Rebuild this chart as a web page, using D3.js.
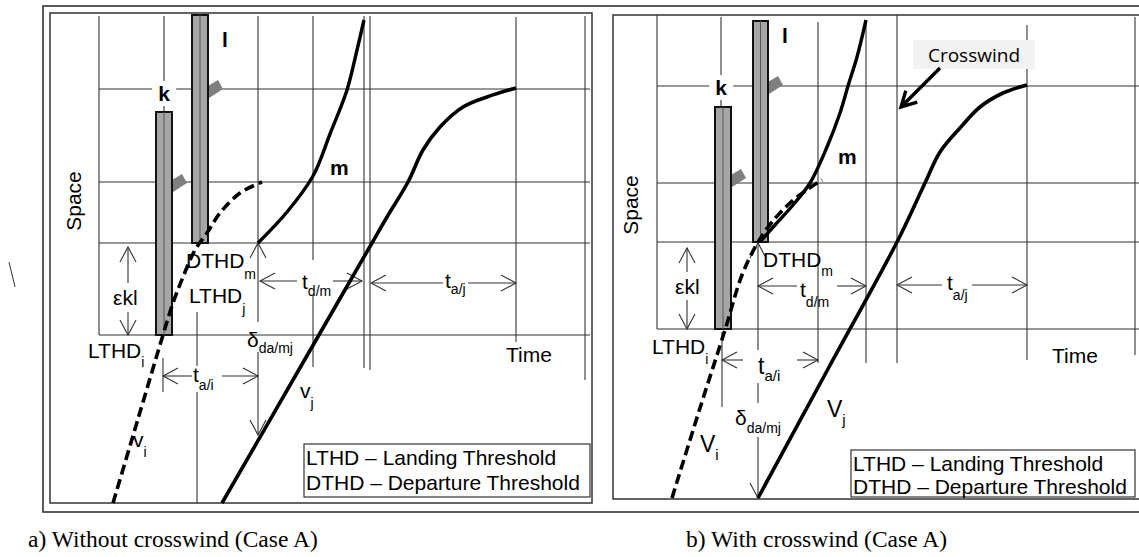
<!DOCTYPE html>
<html>
<head>
<meta charset="utf-8">
<script src="https://cdn.jsdelivr.net/npm/d3@7"></script>
<style>
  html, body { margin: 0; padding: 0; background: #fff; }
  svg { display: block; }
</style>
</head>
<body>
<svg id="fig" width="1139" height="557"></svg>
<script>
// time runs left->right, space runs bottom->up. units are arbitrary (~10 px each)

// ---------- a) without crosswind ----------
const aGridSpace = [41.4, 32.1, 26.0, 16.8]
const aGridTime = [4.9, 54.0]
// [time, space from, space to]
const aVerticals = [
  [4.9, 16.8, 48.7], [11.4, 39.1, 48.7], [20.8, 18.1, 48.7], [20.8, 6.8, 15.1],
  [26.3, 24.3, 48.7], [26.3, 13.6, 20.8], [31.4, 13.5, 48.7], [32.0, 13.3, 48.7],
  [46.6, 16.1, 48.6], [53.5, 12.3, 48.7], [11.3, 11.1, 14.5],
  [14.7, 13.7, 19.1], [14.7, 0, 11.1],
  [7.8, 22.0, 25.6], [7.8, 16.8, 19.1]
]
// [space, time from, time to]
const aHorizontals = [
  [12.7, 11.3, 14.2], [12.7, 17.2, 20.8],
  [22.2, 21.0, 24.7], [22.2, 28.3, 31.2],
  [22.0, 32.1, 39.3], [22.0, 41.8, 46.6]
]
const aHeads = [
  [7.8, 25.6, 'up'], [7.8, 16.8, 'down'], [20.8, 26.0, 'up'], [20.8, 6.8, 'down'],
  [11.3, 12.7, 'left'], [20.8, 12.7, 'right'], [21.0, 22.2, 'left'], [31.2, 22.2, 'right'],
  [32.1, 22.0, 'left'], [46.6, 22.0, 'right']
]
const aBars = [
  { id: 'k', t0: 10.6, t1: 12.2, s0: 16.8, s1: 39.1, tab: 32.2 },
  { id: 'l', t0: 14.2, t1: 15.8, s0: 26.0, s1: 48.8, tab: 41.6 }
]
const aVi = [[6.3, 0], [8.8, 8.4], [11.3, 16.8], [12.3, 20.0], [13.3, 22.6], [14.5, 25.3], [15.7, 27.0], [17.0, 29.0], [19.0, 31.0], [21.2, 32.1]]
const aM = [[20.8, 26.0], [23.7, 29.1], [26.3, 32.7], [28.0, 36.9], [29.7, 41.3], [30.7, 45.3], [31.4, 48.3]]
const aVj = [[17.2, 0], [24.7, 13.0], [29.2, 20.8], [32.2, 26.0], [33.7, 28.6], [35.8, 32.1], [37.3, 35.3], [39.0, 37.6], [41.3, 39.6], [43.7, 40.6], [46.6, 41.5]]
const aLabels = [
  { kind: 'bold', text: 'l', t: 17.2, s: 45.6 },
  { kind: 'bold', text: 'k', t: 11.4, s: 40.2, anchor: 'middle', bg: true },
  { kind: 'axis', text: 'Space', t: 3.1, s: 30.2, rotate: true },
  { kind: 'bold', text: 'm', t: 28.0, s: 32.8 },
  { kind: 'norm', text: 'DTHD', sub: 'm', subDy: 11, t: 13.6, s: 23.5 },
  { kind: 'norm', text: 'LTHD', sub: 'j', subDy: 11, t: 13.9, s: 20.0 },
  { kind: 'norm', text: 'ε', sub: 'kl', subDy: 0, t: 6.3, s: 19.8 },
  { kind: 'norm', text: 'LTHD', sub: 'i', subDy: 9, t: 3.8, s: 14.5 },
  { kind: 'norm', text: 't', sub: 'a/i', subDy: 8, t: 14.3, s: 12.1 },
  { kind: 'norm', text: 'δ', sub: 'da/mj', subDy: 6, t: 19.7, s: 15.6 },
  { kind: 'norm', text: 't', sub: 'd/m', subDy: 7, t: 25.2, s: 21.4 },
  { kind: 'norm', text: 't', sub: 'a/j', subDy: 6, t: 39.5, s: 21.5 },
  { kind: 'norm', text: 'Time', t: 45.6, s: 14.1 },
  { kind: 'norm', text: 'v', sub: 'j', subDy: 10, t: 25.0, s: 10.5 },
  { kind: 'norm', text: 'v', sub: 'i', subDy: 10, t: 8.3, s: 5.6 }
]
const aLegend = { t0: 25.4, t1: 54.0, s0: 0.6, s1: 5.9, tText: 25.6, sLines: [3.8, 1.3] }

// ---------- b) with crosswind ----------
const bGridSpace = [41.3, 31.6, 25.7, 17.0]
const bGridTime = [4.4, 53.3]
const bVerticals = [
  [4.4, 17.0, 48.4], [10.8, 39.2, 48.2], [20.5, 13.6, 47.7], [25.3, 13.6, 47.9], [28.4, 13.6, 48.4],
  [41.4, 13.9, 47.4], [52.2, 14.4, 48.2], [10.9, 9.2, 16.7],
  [14.5, 14.9, 25.6], [14.5, 9.6, 11.6], [14.5, 0.1, 6.2],
  [7.4, 22.7, 25.1], [7.4, 17.0, 19.9]
]
const bHorizontals = [
  [13.9, 10.9, 13.0], [13.9, 18.4, 20.5],
  [21.3, 14.5, 18.4], [21.3, 22.4, 25.3],
  [21.4, 28.4, 32.9], [21.4, 35.9, 41.4]
]
const bHeads = [
  [7.4, 25.1, 'up'], [7.4, 17.0, 'down'], [14.5, 25.6, 'up'], [14.5, 0.1, 'down'],
  [10.9, 13.9, 'left'], [20.5, 13.9, 'right'], [14.5, 21.3, 'left'], [25.3, 21.3, 'right'],
  [28.4, 21.4, 'left'], [41.4, 21.4, 'right']
]
const bBars = [
  { id: 'k', t0: 10.2, t1: 11.8, s0: 17.0, s1: 39.2, tab: 32.3 },
  { id: 'l', t0: 14.0, t1: 15.5, s0: 25.7, s1: 47.8, tab: 41.6 }
]
const bVi = [[5.9, 0.1], [8.7, 9.1], [11.2, 16.9], [12.9, 22.4], [14.4, 25.5], [15.9, 27.7], [17.7, 29.6], [19.5, 31.0], [20.9, 31.9]]
const bM = [[14.7, 25.7], [16.2, 27.4], [18.0, 29.4], [19.7, 31.6], [21.4, 35.2], [22.7, 38.6], [23.5, 41.3], [24.4, 44.2], [25.3, 47.9]]
const bVj = [[14.5, 0.1], [21.5, 13.0], [28.4, 25.7], [31.2, 31.6], [32.7, 34.7], [34.7, 37.1], [36.7, 39.2], [39.0, 40.6], [41.4, 41.4]]
const bCrosswind = { box: [30.0, 42.2, 43.0, 45.9], label: [36.1, 43.7], arrow: [[32.7, 43.1], [28.8, 39.2]] }
const bLabels = [
  { kind: 'bold', text: 'l', t: 16.9, s: 45.6 },
  { kind: 'bold', text: 'k', t: 10.8, s: 40.4, anchor: 'middle', bg: true },
  { kind: 'axis', text: 'Space', t: 2.5, s: 29.4, rotate: true },
  { kind: 'bold', text: 'm', t: 22.5, s: 33.5 },
  { kind: 'norm', text: 'DTHD', sub: 'm', subDy: 9, t: 15.0, s: 23.2 },
  { kind: 'norm', text: 'ε', sub: 'kl', subDy: 0, t: 6.2, s: 20.5 },
  { kind: 'norm', text: 'LTHD', sub: 'i', subDy: 10, t: 3.9, s: 14.5 },
  { kind: 'big', text: 't', sub: 'a/i', subDy: 7, t: 14.5, s: 12.5 },
  { kind: 'norm', text: 'δ', sub: 'da/mj', subDy: 8, t: 12.2, s: 7.4 },
  { kind: 'norm', text: 't', sub: 'd/m', subDy: 10, t: 18.7, s: 20.2 },
  { kind: 'norm', text: 't', sub: 'a/j', subDy: 10, t: 33.4, s: 20.9 },
  { kind: 'big', text: 'V', sub: 'j', subDy: 8, t: 21.4, s: 8.2 },
  { kind: 'big', text: 'V', sub: 'i', subDy: 8, t: 8.7, s: 4.7 },
  { kind: 'norm', text: 'Time', t: 43.9, s: 13.6 }
]
const bLegend = { t0: 23.8, t1: 52.2, s0: 0.2, s1: 4.9, tText: 24.0, sLines: [2.8, 0.5] }

const legendLines = ['LTHD – Landing Threshold', 'DTHD – Departure Threshold']
const captions = ['a) Without crosswind (Case A)', 'b) With crosswind (Case A)']

// ---------- layout / style ----------
const SANS = '"Liberation Sans", Arial, sans-serif'
const labelStyles = {
  norm: { size: 21, subSize: 14, weight: 400 },
  big:  { size: 23, subSize: 15, weight: 400 },
  bold: { size: 21, subSize: 14, weight: 700 },
  axis: { size: 21, subSize: 14, weight: 400 }
}
const panelA = { left: 50, top: 13, right: 592, bottom: 503 }
const panelB = { left: 613, top: 15, right: 1146, bottom: 499 }

const svg = d3.select('#fig')
svg.append('rect').attr('width', 1139).attr('height', 557).attr('fill', '#fff')

// outer frame
svg.append('rect')
  .attr('x', 43).attr('y', 6).attr('width', 1120).attr('height', 506)
  .attr('fill', 'none').attr('stroke', '#333').attr('stroke-width', 1.6)

// stray mark on the left margin
svg.append('line').attr('x1', 9).attr('y1', 262).attr('x2', 15).attr('y2', 287)
  .attr('stroke', '#333').attr('stroke-width', 1)

function headPath(px, py, dir, len = 15, w = 8) {
  const wings = {
    up:    [[-w, len], [w, len]],
    down:  [[-w, -len], [w, -len]],
    left:  [[len, -w], [len, w]],
    right: [[-len, -w], [-len, w]]
  }[dir]
  return `M${px + wings[0][0]},${py + wings[0][1]}L${px},${py}L${px + wings[1][0]},${py + wings[1][1]}`
}

function drawPanel(box, d) {
  const g = svg.append('g')
  const x = d3.scaleLinear().domain([0, (box.right - box.left) / 10]).range([box.left, box.right])
  const y = d3.scaleLinear().domain([0, (box.bottom - box.top) / 10]).range([box.bottom, box.top])

  g.append('rect')
    .attr('x', box.left).attr('y', box.top)
    .attr('width', box.right - box.left).attr('height', box.bottom - box.top)
    .attr('fill', 'none').attr('stroke', '#333').attr('stroke-width', 1.5)

  // ── grid ──
  const gGrid = g.append('g').attr('stroke', '#333').attr('stroke-width', 1.1)
  gGrid.selectAll('line.h').data(d.gridSpace).join('line').attr('class', 'h')
    .attr('x1', x(d.gridTime[0])).attr('x2', x(d.gridTime[1]))
    .attr('y1', s => y(s)).attr('y2', s => y(s))
  gGrid.selectAll('line.v').data(d.verticals).join('line').attr('class', 'v')
    .attr('x1', v => x(v[0])).attr('x2', v => x(v[0]))
    .attr('y1', v => y(v[1])).attr('y2', v => y(v[2]))
  gGrid.selectAll('line.a').data(d.horizontals).join('line').attr('class', 'a')
    .attr('x1', h => x(h[1])).attr('x2', h => x(h[2]))
    .attr('y1', h => y(h[0])).attr('y2', h => y(h[0]))
  gGrid.selectAll('path').data(d.heads).join('path')
    .attr('fill', 'none')
    .attr('d', h => headPath(x(h[0]), y(h[1]), h[2]))

  // ── labels ──
  const gLab = g.append('g').attr('font-family', SANS).attr('fill', '#000')
  d.labels.forEach(l => {
    const st = labelStyles[l.kind]
    const px = x(l.t), py = y(l.s)
    const txt = gLab.append('text')
      .attr('x', px).attr('y', py)
      .attr('font-size', st.size).attr('font-weight', st.weight)
      .attr('text-anchor', l.anchor || (l.rotate ? 'middle' : 'start'))
    if (l.rotate) txt.attr('transform', `rotate(-90,${px},${py})`)
    txt.append('tspan').text(l.text)
    if (l.sub) {
      txt.append('tspan').attr('dy', l.subDy)
        .attr('font-size', l.subDy === 0 ? st.size : st.subSize)
        .attr('font-weight', 400)
        .text(l.sub)
    }
    if (l.bg) {
      const bb = txt.node().getBBox()
      gLab.insert('rect', () => txt.node())
        .attr('x', bb.x - 6).attr('y', bb.y - 1)
        .attr('width', bb.width + 12).attr('height', bb.height + 2)
        .attr('fill', '#fff')
    }
  })

  // ── runway bars ──
  const gBars = g.append('g')
  d.bars.forEach(b => {
    gBars.append('path')
      .attr('d', `M${x(b.t1)},${y(b.tab) - 1}l10,-6l5,9l-14,9z`)
      .attr('fill', '#7f7f7f')
    gBars.append('rect')
      .attr('x', x(b.t0)).attr('y', y(b.s1))
      .attr('width', x(b.t1) - x(b.t0)).attr('height', y(b.s0) - y(b.s1))
      .attr('fill', '#a6a6a6').attr('stroke', '#111').attr('stroke-width', 2)
    const cx = x((b.t0 + b.t1) / 2)
    gBars.append('line')
      .attr('x1', cx).attr('x2', cx).attr('y1', y(b.s1)).attr('y2', y(b.s0))
      .attr('stroke', '#555').attr('stroke-width', 1)
  })

  // ── trajectories ──
  const line = d3.line().x(p => x(p[0])).y(p => y(p[1])).curve(d3.curveCatmullRom.alpha(0.5))
  g.append('path').attr('d', line(d.vi))
    .attr('fill', 'none').attr('stroke', '#000').attr('stroke-width', 3.6)
    .attr('stroke-dasharray', '10,5')
  g.append('path').attr('d', line(d.m))
    .attr('fill', 'none').attr('stroke', '#000').attr('stroke-width', 3.4)
  g.append('path').attr('d', line(d.vj))
    .attr('fill', 'none').attr('stroke', '#000').attr('stroke-width', 3.6)

  // ── crosswind note ──
  if (d.crosswind) {
    const c = d.crosswind
    g.append('rect')
      .attr('x', x(c.box[0])).attr('y', y(c.box[3]))
      .attr('width', x(c.box[1]) - x(c.box[0])).attr('height', y(c.box[2]) - y(c.box[3]))
      .attr('fill', '#f2f2f2')
    g.append('text')
      .attr('x', x(c.label[0])).attr('y', y(c.label[1]))
      .attr('text-anchor', 'middle')
      .attr('font-family', '"Open Sans", sans-serif').attr('font-size', 19)
      .text('Crosswind')
    const [p0, p1] = c.arrow
    const ax0 = x(p0[0]), ay0 = y(p0[1]), ax1 = x(p1[0]), ay1 = y(p1[1])
    const ang = Math.atan2(ay1 - ay0, ax1 - ax0)
    const hl = 17, spread = 0.5
    g.append('path')
      .attr('d', `M${ax0},${ay0}L${ax1},${ay1}` +
        `M${ax1 - hl * Math.cos(ang - spread)},${ay1 - hl * Math.sin(ang - spread)}L${ax1},${ay1}` +
        `L${ax1 - hl * Math.cos(ang + spread)},${ay1 - hl * Math.sin(ang + spread)}`)
      .attr('fill', 'none').attr('stroke', '#000').attr('stroke-width', 3.4)
  }

  // ── legend ──
  const lg = d.legend
  g.append('rect')
    .attr('x', x(lg.t0)).attr('y', y(lg.s1))
    .attr('width', x(lg.t1) - x(lg.t0)).attr('height', y(lg.s0) - y(lg.s1))
    .attr('fill', '#fff').attr('stroke', '#333').attr('stroke-width', 1.2)
  g.selectAll('text.leg').data(legendLines).join('text').attr('class', 'leg')
    .attr('x', x(lg.tText)).attr('y', (_, i) => y(lg.sLines[i]))
    .attr('font-family', SANS).attr('font-size', 21)
    .text(t => t)
}

drawPanel(panelA, {
  gridSpace: aGridSpace, gridTime: aGridTime, verticals: aVerticals, horizontals: aHorizontals,
  heads: aHeads, bars: aBars, vi: aVi, m: aM, vj: aVj, labels: aLabels, legend: aLegend
})
drawPanel(panelB, {
  gridSpace: bGridSpace, gridTime: bGridTime, verticals: bVerticals, horizontals: bHorizontals,
  heads: bHeads, bars: bBars, vi: bVi, m: bM, vj: bVj, labels: bLabels, legend: bLegend,
  crosswind: bCrosswind
})

// captions
svg.selectAll('text.cap').data(captions).join('text').attr('class', 'cap')
  .attr('x', (_, i) => [28, 686][i]).attr('y', 547)
  .attr('font-family', '"Liberation Serif", "Times New Roman", serif')
  .attr('font-size', 23.5)
  .text(t => t)
</script>
</body>
</html>
